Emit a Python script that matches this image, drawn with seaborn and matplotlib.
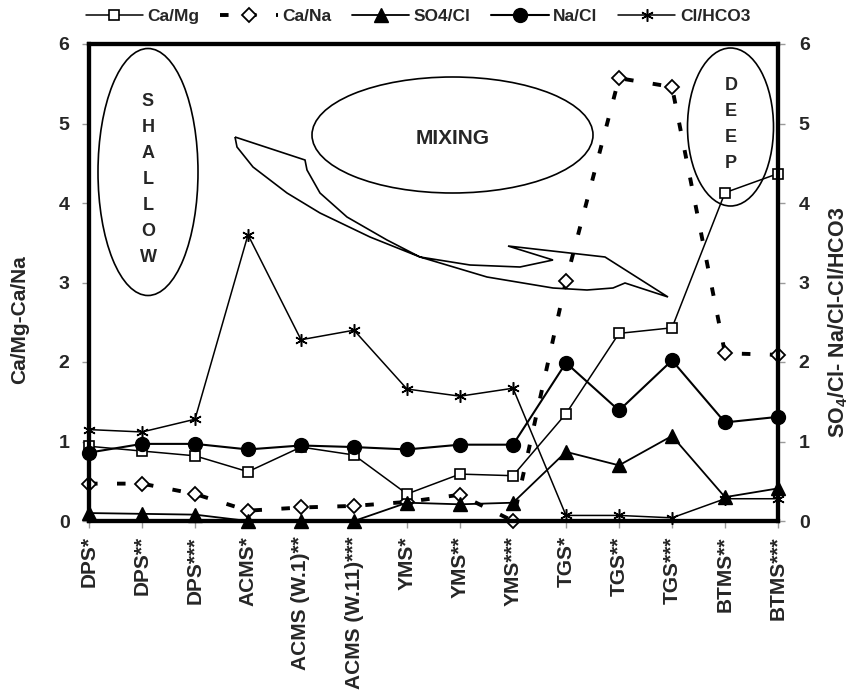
import numpy as np
import pandas as pd
import matplotlib
matplotlib.use("Agg")
import matplotlib.pyplot as plt
from matplotlib.patches import Ellipse, PathPatch
from matplotlib.path import Path
import seaborn as sns

# Sampling sites (shallow -> mixing -> deep)
sites = ["DPS*", "DPS**", "DPS***", "ACMS*", "ACMS (W.1)**", "ACMS (W.11)***",
         "YMS*", "YMS**", "YMS***", "TGS*", "TGS**", "TGS***", "BTMS**", "BTMS***"]

# Left axis ratios
ca_mg = [0.94, 0.88, 0.82, 0.62, 0.93, 0.83, 0.34, 0.59, 0.57, 1.35, 2.36, 2.43, 4.13, 4.37]
ca_na = [0.47, 0.47, 0.34, 0.13, 0.17, 0.19, 0.24, 0.33, 0.00, 3.02, 5.57, 5.46, 2.11, 2.09]

# Right axis ratios
so4_cl = [0.10, 0.09, 0.08, 0.00, 0.00, 0.00, 0.23, 0.21, 0.23, 0.87, 0.70, 1.07, 0.30, 0.41]
na_cl = [0.86, 0.97, 0.97, 0.90, 0.95, 0.93, 0.90, 0.96, 0.96, 1.99, 1.39, 2.02, 1.24, 1.31]
cl_hco3 = [1.15, 1.12, 1.28, 3.60, 2.28, 2.40, 1.66, 1.57, 1.67, 0.07, 0.07, 0.04, 0.28, 0.28]

y_ticks = [0, 1, 2, 3, 4, 5, 6]

sns.set_style("white")
plt.rcParams["font.family"] = ["Liberation Sans", "DejaVu Sans"]
plt.rcParams["font.weight"] = "bold"
plt.rcParams["mathtext.fontset"] = "custom"
plt.rcParams["mathtext.rm"] = "Liberation Sans:bold"
plt.rcParams["mathtext.default"] = "rm"

df = pd.DataFrame({"pos": np.arange(len(sites)), "site": sites,
                   "Ca/Mg": ca_mg, "Ca/Na": ca_na, "SO4/Cl": so4_cl,
                   "Na/Cl": na_cl, "Cl/HCO3": cl_hco3})

W, H = 856, 694
fig = plt.figure(figsize=(W / 100, H / 100), dpi=100)
L, R, T, B = 89, 778, 44, 521
ax = fig.add_axes([L / W, (H - B) / H, (R - L) / W, (B - T) / H])
ax2 = ax.twinx()

common = dict(color="black", clip_on=False, markeredgecolor="black")

sns.lineplot(data=df, x="pos", y="Ca/Mg", ax=ax, marker="s", markersize=7,
             markerfacecolor="white", markeredgewidth=1.2, lw=1.1,
             label="Ca/Mg", zorder=3, **common)
sns.lineplot(data=df, x="pos", y="Ca/Na", ax=ax, marker="D", markersize=7.5,
             markerfacecolor="white", markeredgewidth=1.3, lw=2.8,
             linestyle=(0, (2.2, 5.0)), label="Ca/Na", zorder=2, **common)

sns.lineplot(data=df, x="pos", y="SO4/Cl", ax=ax2, marker="^", markersize=9.5,
             markerfacecolor="black", markeredgewidth=1, lw=1.3,
             label="SO4/Cl", zorder=3, **common)
sns.lineplot(data=df, x="pos", y="Na/Cl", ax=ax2, marker="o", markersize=10,
             markerfacecolor="black", markeredgewidth=1, lw=1.5,
             label="Na/Cl", zorder=3, **common)
sns.lineplot(data=df, x="pos", y="Cl/HCO3", ax=ax2, marker=(6, 2, 0), markersize=9,
             markerfacecolor="black", markeredgewidth=1.1, lw=1.1,
             label="Cl/HCO3", zorder=4, **common)

for a in (ax, ax2):
    a.set_xlim(0, len(sites) - 1)
    a.set_ylim(0, 6)
    a.set_yticks(y_ticks)
    a.set_xlabel("")
    a.set_ylabel("")
    for sp in a.spines.values():
        sp.set_linewidth(3)
        sp.set_color("black")
        sp.set_visible(True)
    if a.get_legend() is not None:
        a.get_legend().remove()

ax.set_xticks(df["pos"])
ax.set_xticklabels(sites, rotation=90, fontsize=15, fontweight="bold")
ax.set_yticklabels([str(t) for t in y_ticks], fontsize=14, fontweight="bold")
ax2.set_yticklabels([str(t) for t in y_ticks], fontsize=14, fontweight="bold")
ax.tick_params(axis="both", direction="out", length=5, width=1, color="#9a9a9a",
               left=True, bottom=True, pad=9)
ax2.tick_params(axis="y", direction="out", length=5, width=1, color="#9a9a9a",
                right=True, pad=10)
ax.tick_params(axis="x", pad=6)

fig.text(20 / W, 1 - 320 / H, "Ca/Mg-Ca/Na", rotation=90, ha="center", va="center",
         fontsize=15, fontweight="bold")
fig.text(838 / W, 1 - 322 / H, "SO$_4$/Cl- Na/Cl-Cl/HCO3", rotation=90,
         ha="center", va="center", fontsize=15.5, fontweight="bold")

# Legend across the top
handles, labels = [], []
for a in (ax, ax2):
    h, l = a.get_legend_handles_labels()
    handles += h
    labels += l
fig.legend(handles, labels, loc="center", bbox_to_anchor=(418 / W, 1 - 16 / H),
           ncol=5, frameon=False, fontsize=12.5, handlelength=3.3,
           handletextpad=0.25, columnspacing=1.2, borderaxespad=0)


def px(x, y):
    """Pixel position inside the frame -> axes fraction."""
    return ((x - L) / (R - L), (B - y) / (B - T))


def ellipse(cx, cy, w, h):
    c = px(cx, cy)
    e = Ellipse(c, w / (R - L), h / (B - T), transform=ax.transAxes, fill=False,
                edgecolor="black", lw=1.2, clip_on=False, zorder=1)
    ax.add_patch(e)


def stacked(word, x, y0, step, size):
    for i, ch in enumerate(word):
        fx, fy = px(x, y0 + i * step)
        ax.text(fx, fy, ch, transform=ax.transAxes, ha="center", va="center",
                fontsize=size, fontweight="bold")


# Zones
ellipse(148, 172, 100, 247)
stacked("SHALLOW", 148, 101, 26, 13)

ellipse(452.5, 135, 281, 116)
fx, fy = px(453, 138)
ax.text(fx, fy, "MIXING", transform=ax.transAxes, ha="center", va="center",
        fontsize=15, fontweight="bold")

ellipse(730.5, 127, 86, 158)
stacked("DEEP", 731, 86, 26, 13)

# Curved arrow pointing from the shallow zone towards the deep zone
outer = [(235, 137), (237, 147), (253, 167), (287, 193), (320, 213), (370, 237),
         (420, 257), (487, 277), (553, 288), (587, 290), (613, 288)]
head = [(625, 283), (668, 297), (605, 257), (508, 246), (553, 260)]
inner = [(520, 267), (470, 265), (420, 257), (387, 240), (347, 217), (320, 193),
         (307, 170), (305, 160)]
pts = outer + head + inner + [(235, 137)]
verts = [px(x, y) for x, y in pts]
path = Path(verts)
ax.add_patch(PathPatch(path, transform=ax.transAxes, fill=False, edgecolor="black",
                       lw=1.2, clip_on=False, zorder=1))

fig.savefig("out.png", dpi=100)
